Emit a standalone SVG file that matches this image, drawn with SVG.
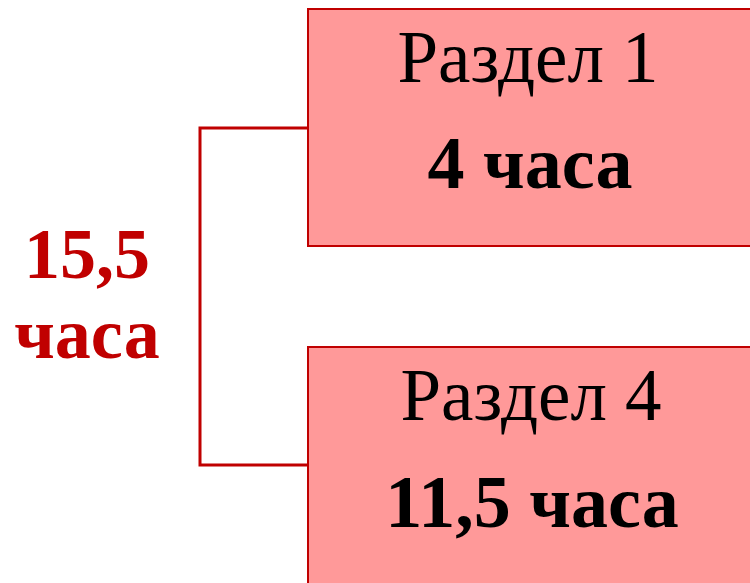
<svg xmlns="http://www.w3.org/2000/svg" width="750" height="583" viewBox="0 0 750 583">
<style>
.box{fill:#FF9999;stroke:#C00000;stroke-width:2}
.conn{fill:none;stroke:#C00000;stroke-width:3}
.t{font-family:"Liberation Serif","Times New Roman",serif;font-size:73px;text-anchor:middle;fill:#000}
.b{font-weight:bold;font-size:74px}
.r{fill:#C00000;font-weight:bold;font-size:72px}
</style>
<rect width="750" height="583" fill="#fff"/>
<g id="connectors">
<polyline class="conn" points="308,128 200,128 200,465 308,465"/>
</g>
<g id="total">
<text class="t r" x="87" y="278">15,5</text>
<text class="t r" x="87" y="358">часа</text>
</g>
<g id="section1">
<rect class="box" x="308" y="9" width="446" height="237"/>
<text class="t" x="528" y="82">Раздел 1</text>
<text class="t b" x="530" y="188">4 часа</text>
</g>
<g id="section4">
<rect class="box" x="308" y="347" width="446" height="240"/>
<text class="t" x="531" y="420">Раздел 4</text>
<text class="t b" x="532" y="527">11,5 часа</text>
</g>
</svg>
